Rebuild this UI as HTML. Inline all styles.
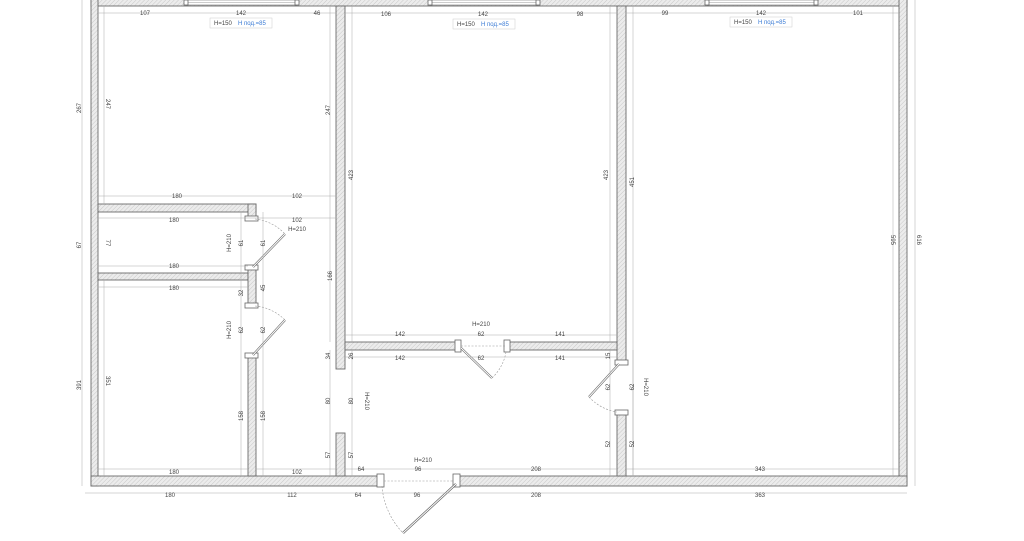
<!DOCTYPE html>
<html><head><meta charset="utf-8"><style>
html,body{margin:0;padding:0;background:#fff;}
svg{display:block;}
text{font-family:"Liberation Sans",sans-serif;font-size:6px;fill:#444;}
.w{fill:#e4e4e4;stroke:#6a6a6a;stroke-width:0.9;}
.d{stroke:#aaa;stroke-width:0.5;fill:none;}
.s{stroke:#999;stroke-width:0.6;fill:none;stroke-dasharray:2 1.5;}
.p{fill:#fff;stroke:#666;stroke-width:0.8;}
.b{fill:#3a7bd5;}
</style></head><body>
<svg width="1024" height="541" viewBox="0 0 1024 541" xmlns="http://www.w3.org/2000/svg">
<rect width="1024" height="541" fill="#fff"/>
<defs><pattern id="h" width="3" height="3" patternUnits="userSpaceOnUse" patternTransform="rotate(45)"><rect width="3" height="3" fill="#ececec"/><line x1="0" y1="0" x2="0" y2="3" stroke="#c8c8c8" stroke-width="1"/></pattern></defs>
<g fill="url(#h)" stroke="#6a6a6a" stroke-width="0.9">
<!-- outer -->
<rect x="91" y="-2" width="816" height="8"/>
<rect x="91" y="-2" width="7" height="488"/>
<rect x="899" y="-2" width="8" height="488"/>
<rect x="91" y="476" width="289" height="10"/>
<rect x="456" y="476" width="451" height="10"/>
<!-- room1/room2 wall -->
<rect x="336" y="6" width="9" height="363"/>
<rect x="336" y="433" width="9" height="43"/>
<!-- room2/room3 wall -->
<rect x="617" y="6" width="9" height="356"/>
<rect x="617" y="412" width="9" height="64"/>
<!-- left small walls -->
<rect x="98" y="204" width="158" height="8"/>
<rect x="98" y="273" width="150" height="7"/>
<rect x="248" y="204" width="8" height="13"/>
<rect x="248" y="268" width="8" height="36"/>
<rect x="248" y="355" width="8" height="121"/>
<!-- room2 bottom -->
<rect x="345" y="342" width="113" height="8"/>
<rect x="507" y="342" width="110" height="8"/>
</g>
<!-- windows -->
<g>
<rect x="186" y="0" width="111" height="5" fill="#fff" stroke="#777" stroke-width="0.6"/>
<line x1="186" y1="2.5" x2="297" y2="2.5" stroke="#999" stroke-width="0.5"/>
<rect x="430" y="0" width="108" height="5" fill="#fff" stroke="#777" stroke-width="0.6"/>
<line x1="430" y1="2.5" x2="538" y2="2.5" stroke="#999" stroke-width="0.5"/>
<rect x="707" y="0" width="109" height="5" fill="#fff" stroke="#777" stroke-width="0.6"/>
<line x1="707" y1="2.5" x2="816" y2="2.5" stroke="#999" stroke-width="0.5"/>
<rect x="184" y="0" width="4" height="5" class="p"/><rect x="295" y="0" width="4" height="5" class="p"/>
<rect x="428" y="0" width="4" height="5" class="p"/><rect x="536" y="0" width="4" height="5" class="p"/>
<rect x="705" y="0" width="4" height="5" class="p"/><rect x="814" y="0" width="4" height="5" class="p"/>
</g>
<!-- door posts & panels & swings -->
<g>
<rect x="245" y="216" width="13" height="5" class="p"/><rect x="245" y="265" width="13" height="5" class="p"/>
<line x1="253" y1="267" x2="285" y2="234" stroke="#666" stroke-width="2.2"/><line x1="253" y1="267" x2="285" y2="234" stroke="#fff" stroke-width="1"/>
<path d="M255,219 A48,48 0 0 1 285,234" class="s"/>
<rect x="245" y="303" width="13" height="5" class="p"/><rect x="245" y="353" width="13" height="5" class="p"/>
<line x1="253" y1="355" x2="285" y2="320" stroke="#666" stroke-width="2.2"/><line x1="253" y1="355" x2="285" y2="320" stroke="#fff" stroke-width="1"/>
<path d="M255,306 A48,48 0 0 1 285,320" class="s"/>
<rect x="455" y="340" width="6" height="12" class="p"/><rect x="504" y="340" width="6" height="12" class="p"/>
<line x1="461" y1="348" x2="492" y2="378" stroke="#666" stroke-width="2.2"/><line x1="461" y1="348" x2="492" y2="378" stroke="#fff" stroke-width="1"/>
<path d="M506,352 A46,46 0 0 1 492,378" class="s"/>
<line x1="461" y1="346" x2="505" y2="346" class="s"/>
<rect x="615" y="360" width="13" height="5" class="p"/><rect x="615" y="410" width="13" height="5" class="p"/>
<line x1="619" y1="364" x2="589" y2="397" stroke="#666" stroke-width="2.2"/><line x1="619" y1="364" x2="589" y2="397" stroke="#fff" stroke-width="1"/>
<path d="M589,397 A48,48 0 0 0 617,412" class="s"/>
<rect x="377" y="474" width="7" height="13" class="p"/><rect x="453" y="474" width="7" height="13" class="p"/>
<line x1="456" y1="484" x2="403" y2="533" stroke="#666" stroke-width="2.4"/><line x1="456" y1="484" x2="403" y2="533" stroke="#fff" stroke-width="1"/>
<path d="M382,486 A76,76 0 0 0 403,533" class="s"/>
<line x1="384" y1="481" x2="453" y2="481" class="s"/>
</g>
<!-- dimension lines -->
<g class="d">
<line x1="98" y1="13" x2="336" y2="13"/><line x1="345" y1="13" x2="617" y2="13"/><line x1="626" y1="13" x2="899" y2="13"/>
<line x1="98" y1="196" x2="336" y2="196"/><line x1="98" y1="218" x2="336" y2="218"/>
<line x1="98" y1="266" x2="248" y2="266"/><line x1="98" y1="287" x2="248" y2="287"/>
<line x1="98" y1="469" x2="248" y2="469"/><line x1="256" y1="469" x2="336" y2="469"/>
<line x1="345" y1="335" x2="617" y2="335"/><line x1="345" y1="357" x2="617" y2="357"/>
<line x1="345" y1="469" x2="380" y2="469"/><line x1="380" y1="469" x2="617" y2="469"/><line x1="626" y1="469" x2="899" y2="469"/>
<line x1="85" y1="493" x2="907" y2="493"/>
<line x1="104" y1="6" x2="104" y2="204"/><line x1="330" y1="6" x2="330" y2="342"/>
<line x1="352" y1="6" x2="352" y2="342"/><line x1="610" y1="6" x2="610" y2="342"/>
<line x1="633" y1="6" x2="633" y2="476"/><line x1="893" y1="6" x2="893" y2="476"/>
<line x1="915" y1="0" x2="915" y2="486"/><line x1="82" y1="0" x2="82" y2="486"/>
<line x1="104" y1="280" x2="104" y2="476"/><line x1="241" y1="212" x2="241" y2="476"/><line x1="263" y1="212" x2="263" y2="476"/>
<line x1="330" y1="350" x2="330" y2="476"/><line x1="352" y1="350" x2="352" y2="476"/>
<line x1="610" y1="350" x2="610" y2="476"/><line x1="633" y1="350" x2="633" y2="476"/>
</g>
<!-- labels -->
<g text-anchor="middle">
<text x="145" y="15">107</text><text x="241" y="15">142</text><text x="317" y="15">46</text>
<text x="386" y="16">106</text><text x="483" y="16">142</text><text x="580" y="16">98</text>
<text x="665" y="15">99</text><text x="761" y="15">142</text><text x="858" y="15">101</text>
<text x="177" y="198">180</text><text x="297" y="198">102</text>
<text x="174" y="222">180</text><text x="297" y="222">102</text>
<text x="174" y="268">180</text><text x="174" y="290">180</text>
<text x="174" y="474">180</text><text x="297" y="474">102</text>
<text x="400" y="336">142</text><text x="481" y="336">62</text><text x="560" y="336">141</text>
<text x="400" y="360">142</text><text x="481" y="360">62</text><text x="560" y="360">141</text>
<text x="361" y="471">64</text><text x="418" y="471">96</text><text x="536" y="471">208</text><text x="760" y="471">343</text>
<text x="170" y="497">180</text><text x="292" y="497">112</text><text x="358" y="497">64</text><text x="417" y="497">96</text><text x="536" y="497">208</text><text x="760" y="497">363</text>
<text x="423" y="462">H=210</text><text x="481" y="326">H=210</text><text x="297" y="231">H=210</text>
</g>
<g text-anchor="middle">
<text transform="translate(106,104) rotate(90)">247</text>
<text transform="translate(330,110) rotate(-90)">247</text>
<text transform="translate(353,175) rotate(-90)">423</text>
<text transform="translate(608,175) rotate(-90)">423</text>
<text transform="translate(634,182) rotate(-90)">451</text>
<text transform="translate(891,240) rotate(90)">595</text>
<text transform="translate(917,240) rotate(90)">616</text>
<text transform="translate(81,108) rotate(-90)">267</text>
<text transform="translate(81,245) rotate(-90)">67</text>
<text transform="translate(81,385) rotate(-90)">391</text>
<text transform="translate(106,243) rotate(90)">77</text>
<text transform="translate(106,381) rotate(90)">351</text>
<text transform="translate(243,243) rotate(-90)">61</text><text transform="translate(265,243) rotate(-90)">61</text>
<text transform="translate(231,243) rotate(-90)">H=210</text>
<text transform="translate(231,330) rotate(-90)">H=210</text>
<text transform="translate(243,330) rotate(-90)">62</text><text transform="translate(265,330) rotate(-90)">62</text>
<text transform="translate(243,293) rotate(-90)">32</text><text transform="translate(265,288) rotate(-90)">45</text>
<text transform="translate(243,416) rotate(-90)">158</text><text transform="translate(265,416) rotate(-90)">158</text>
<text transform="translate(332,276) rotate(-90)">166</text>
<text transform="translate(330,356) rotate(-90)">34</text><text transform="translate(353,356) rotate(-90)">26</text>
<text transform="translate(330,401) rotate(-90)">80</text><text transform="translate(353,401) rotate(-90)">80</text>
<text transform="translate(365,401) rotate(90)">H=210</text>
<text transform="translate(330,455) rotate(-90)">57</text><text transform="translate(353,455) rotate(-90)">57</text>
<text transform="translate(610,387) rotate(-90)">62</text><text transform="translate(634,387) rotate(-90)">62</text>
<text transform="translate(644,387) rotate(90)">H=210</text>
<text transform="translate(610,444) rotate(-90)">52</text><text transform="translate(634,444) rotate(-90)">52</text>
<text transform="translate(610,356) rotate(-90)">15</text>
</g>
<!-- window labels -->
<g>
<rect x="210" y="18" width="62" height="10" fill="#fff" stroke="#ccc" stroke-width="0.5"/>
<text x="214" y="25">H=150</text><text x="238" y="25" class="b">Н под.=85</text>
<rect x="453" y="19" width="62" height="10" fill="#fff" stroke="#ccc" stroke-width="0.5"/>
<text x="457" y="26">H=150</text><text x="481" y="26" class="b">Н под.=85</text>
<rect x="730" y="17" width="62" height="10" fill="#fff" stroke="#ccc" stroke-width="0.5"/>
<text x="734" y="24">H=150</text><text x="758" y="24" class="b">Н под.=85</text>
</g>
</svg>
</body></html>
